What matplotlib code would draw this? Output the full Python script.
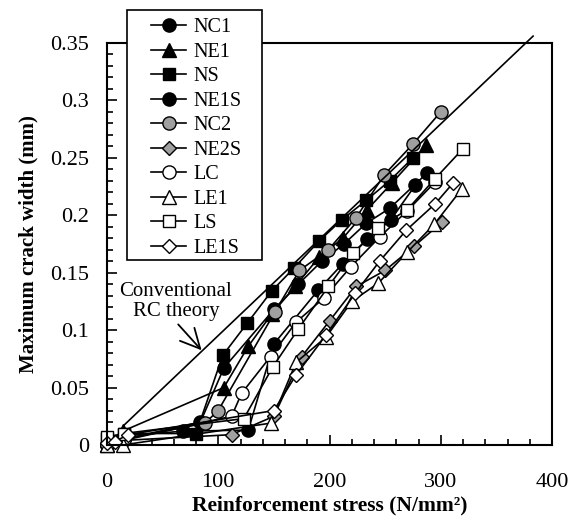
import matplotlib
matplotlib.use("Agg")
import matplotlib.pyplot as plt
from matplotlib.patches import Rectangle
from matplotlib.ticker import MultipleLocator, FuncFormatter

plt.rcParams['font.family'] = ['Liberation Serif', 'DejaVu Serif']

# ---- data (stress N/mm2, crack width mm) ----
labels = ["NC1", "NE1", "NS", "NE1S", "NC2", "NE2S", "LC", "LE1", "LS", "LE1S"]

nc1_x = [0, 15, 84, 105, 150, 172, 193, 213, 233, 254, 288]
nc1_y = [0, 0.005, 0.020, 0.067, 0.118, 0.140, 0.160, 0.175, 0.193, 0.206, 0.237]

ne1_x = [0, 14, 105, 127, 148, 169, 191, 212, 234, 256, 287]
ne1_y = [0, 0.012, 0.050, 0.086, 0.114, 0.138, 0.164, 0.180, 0.205, 0.228, 0.261]

ns_x = [0, 15, 80, 104, 126, 148, 168, 191, 211, 233, 254, 275]
ns_y = [0.005, 0.010, 0.010, 0.078, 0.106, 0.134, 0.154, 0.178, 0.196, 0.213, 0.230, 0.250]

ne1s_x = [0, 15, 68, 127, 150, 190, 212, 234, 255, 277]
ne1s_y = [0, 0.008, 0.012, 0.013, 0.088, 0.135, 0.158, 0.179, 0.196, 0.226]

nc2_x = [0, 15, 88, 100, 151, 173, 199, 224, 249, 275, 300]
nc2_y = [0, 0.005, 0.019, 0.030, 0.116, 0.152, 0.170, 0.198, 0.235, 0.262, 0.290]

ne2s_x = [0, 15, 112, 150, 175, 200, 224, 250, 276, 301]
ne2s_y = [0, 0.004, 0.009, 0.025, 0.077, 0.108, 0.138, 0.152, 0.173, 0.194]

lc_x = [0, 15, 112, 121, 147, 170, 195, 219, 245, 270, 295]
lc_y = [0, 0.004, 0.025, 0.045, 0.077, 0.107, 0.128, 0.155, 0.181, 0.204, 0.229]

le1_x = [0, 14, 147, 170, 197, 220, 244, 270, 294, 319]
le1_y = [0, 0.0, 0.019, 0.072, 0.094, 0.125, 0.141, 0.168, 0.192, 0.223]

ls_x = [0, 15, 123, 149, 172, 199, 221, 244, 270, 295, 320]
ls_y = [0.007, 0.010, 0.023, 0.068, 0.101, 0.138, 0.167, 0.189, 0.205, 0.232, 0.258]

le1s_x = [0, 7, 19, 150, 170, 197, 223, 245, 269, 295, 311]
le1s_y = [0.002, 0.003, 0.009, 0.030, 0.061, 0.096, 0.132, 0.160, 0.187, 0.210, 0.228]

theory_x = [15, 383]
theory_y = [0.017, 0.356]

series_x = [nc1_x, ne1_x, ns_x, ne1s_x, nc2_x, ne2s_x, lc_x, le1_x, ls_x, le1s_x]
series_y = [nc1_y, ne1_y, ns_y, ne1s_y, nc2_y, ne2s_y, lc_y, le1_y, ls_y, le1s_y]

styles = [
    dict(marker='o', mfc='black', ms=9.5),
    dict(marker='^', mfc='black', ms=9.5),
    dict(marker='s', mfc='black', ms=9),
    dict(marker='o', mfc='black', ms=9.5),
    dict(marker='o', mfc='#a0a0a0', ms=9.5),
    dict(marker='D', mfc='#a0a0a0', ms=7.5),
    dict(marker='o', mfc='white', ms=9.5),
    dict(marker='^', mfc='white', ms=9.5),
    dict(marker='s', mfc='white', ms=9),
    dict(marker='D', mfc='white', ms=7.5),
]

W, H = 580, 525
fig = plt.figure(figsize=(W / 100, H / 100), dpi=100)
ax = fig.add_axes([107 / W, 1 - 445 / H, (552 - 107) / W, (445 - 43) / H])

handles = []
for xs, ys, st, lab in zip(series_x, series_y, styles, labels):
    ln, = ax.plot(xs, ys, color='black', lw=1.2, mec='black', mew=1.0,
                  clip_on=False, label=lab, **st)
    handles.append(ln)

ax.plot(theory_x, theory_y, color='black', lw=1.2, clip_on=False)
ax.text(62, 0.125, "Conventional\nRC theory", ha='center', va='center',
        fontsize=15, linespacing=1.1)
ax.annotate("", xy=(85, 0.0825), xytext=(64, 0.105),
            arrowprops=dict(arrowstyle='->,head_length=0.7,head_width=0.35',
                            color='black', lw=1.3,
                            shrinkA=0, shrinkB=0, mutation_scale=20))

ax.set_xlim(0, 400)
ax.set_ylim(0, 0.35)
ax.xaxis.set_major_locator(MultipleLocator(100))
ax.xaxis.set_minor_locator(MultipleLocator(20))
ax.yaxis.set_major_locator(MultipleLocator(0.05))
ax.yaxis.set_minor_locator(MultipleLocator(0.01))
ax.yaxis.set_major_formatter(FuncFormatter(lambda v, p: f"{round(v, 3):g}"))
ax.tick_params(which='both', direction='in', top=False, right=False)
ax.tick_params(which='major', length=7, width=1.2)
ax.tick_params(which='minor', length=4, width=1.2)
ax.tick_params(axis='x', which='major', pad=20, labelsize=16)
ax.tick_params(axis='y', which='major', pad=13, labelsize=16)
for s in ax.spines.values():
    s.set_linewidth(1.5)

ax.set_xlabel("Reinforcement stress (N/mm\u00b2)", fontsize=15.5, fontweight='bold', labelpad=3)
ax.set_ylabel("Maximum crack width (mm)", fontsize=15, fontweight='bold', labelpad=8)

# legend box
rect = Rectangle((127 / W, 1 - 260 / H), (262 - 127) / W, (260 - 10) / H,
                 transform=fig.transFigure, facecolor='white', edgecolor='black',
                 lw=1.2, zorder=4)
fig.add_artist(rect)
fig.legend(handles=handles, labels=labels, loc='upper left',
           bbox_to_anchor=(151 / W, 1 - 18 / H), frameon=False,
           borderpad=0, borderaxespad=0, labelspacing=0.27,
           handlelength=1.75, handletextpad=0.35, fontsize=14.5)

fig.savefig("out.png", dpi=100)
